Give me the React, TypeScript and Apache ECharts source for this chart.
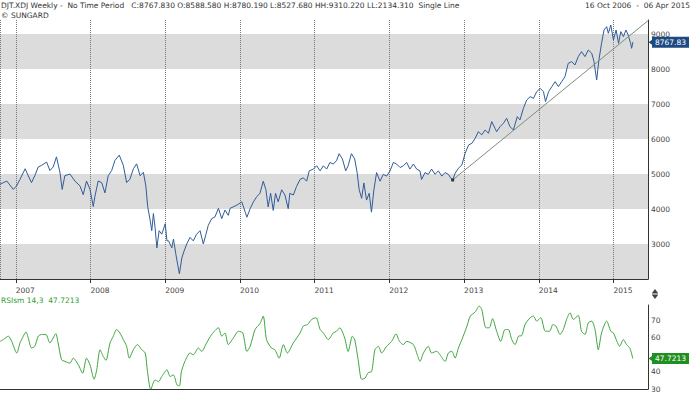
import React, { useEffect, useRef } from "react";
import * as echarts from "echarts";

const priceDates = [
  "2006-10-16","2006-11-18","2006-12-20","2007-01-05","2007-01-22","2007-02-16","2007-03-03","2007-03-19","2007-04-04","2007-04-21",
  "2007-05-07","2007-06-01","2007-06-17","2007-07-03","2007-07-19","2007-08-05","2007-08-16","2007-08-29","2007-09-23","2007-10-17",
  "2007-11-11","2007-11-27","2007-12-13","2007-12-30","2008-01-15","2008-01-23","2008-02-08","2008-02-25","2008-03-12","2008-03-28",
  "2008-04-14","2008-04-30","2008-05-21","2008-06-10","2008-06-26","2008-07-12","2008-07-29","2008-08-14","2008-08-31","2008-09-16",
  "2008-09-28","2008-10-07","2008-10-19","2008-10-27","2008-11-04","2008-11-12","2008-11-21","2008-12-02","2008-12-15","2009-01-01",
  "2009-01-09","2009-01-17","2009-02-02","2009-02-10","2009-02-22","2009-03-03","2009-03-11","2009-03-23","2009-04-03","2009-04-16",
  "2009-05-02","2009-05-18","2009-06-03","2009-06-20","2009-07-06","2009-07-19","2009-07-30","2009-08-16","2009-09-01","2009-09-18",
  "2009-10-04","2009-10-20","2009-11-05","2009-11-14","2009-12-17","2010-01-10","2010-01-27","2010-02-04","2010-02-20","2010-03-08",
  "2010-03-24","2010-04-09","2010-04-25","2010-05-08","2010-05-19","2010-05-31","2010-06-13","2010-06-24","2010-07-07","2010-07-24",
  "2010-08-09","2010-08-25","2010-09-02","2010-09-19","2010-10-05","2010-10-22","2010-11-07","2010-11-23","2010-12-06","2010-12-26",
  "2011-01-11","2011-01-28","2011-02-13","2011-03-01","2011-03-17","2011-04-02","2011-04-18","2011-05-01","2011-05-17","2011-06-02",
  "2011-06-14","2011-06-30","2011-07-16","2011-07-28","2011-08-07","2011-08-19","2011-08-30","2011-09-12","2011-09-25","2011-10-06",
  "2011-10-18","2011-10-31","2011-11-17","2011-12-03","2011-12-19","2012-01-05","2012-01-21","2012-02-06","2012-02-23","2012-03-10",
  "2012-03-26","2012-04-11","2012-04-28","2012-05-14","2012-05-30","2012-06-07","2012-06-24","2012-07-10","2012-07-26","2012-08-12",
  "2012-08-28","2012-09-14","2012-09-30","2012-10-16","2012-10-27","2012-11-06","2012-11-18","2012-12-04","2012-12-21","2013-01-06",
  "2013-01-23","2013-02-08","2013-02-24","2013-03-12","2013-03-28","2013-04-14","2013-04-30","2013-05-16","2013-06-01","2013-06-09",
  "2013-06-26","2013-07-12","2013-07-28","2013-08-13","2013-08-30","2013-09-18","2013-10-01","2013-10-18","2013-11-03","2013-11-20",
  "2013-12-06","2013-12-22","2014-01-08","2014-01-24","2014-02-03","2014-02-18","2014-03-06","2014-03-22","2014-04-07","2014-04-23",
  "2014-05-09","2014-05-25","2014-06-11","2014-06-27","2014-07-13","2014-07-29","2014-08-15","2014-08-31","2014-09-17","2014-09-28",
  "2014-10-11","2014-10-22","2014-11-04","2014-11-16","2014-11-29","2014-12-07","2014-12-19","2015-01-01","2015-01-14","2015-01-26",
  "2015-02-06","2015-02-19","2015-03-03","2015-03-14","2015-03-26","2015-03-31","2015-04-06"
];
const priceValues = [
  4706,4800,4560,4660,4850,5150,4950,4755,4950,5200,
  5245,5340,5100,5200,5490,5050,4560,4950,5000,4800,
  4660,4410,4800,4560,4070,4360,4800,4755,4460,4950,
  5100,5390,5540,5245,4755,4850,5150,5290,4950,5050,
  4660,4070,3680,3380,3870,3480,2890,3380,3280,3580,
  3090,3090,2890,3140,2700,2400,2150,2600,2800,3000,
  3190,3090,3280,3380,3000,3280,3530,3725,3775,4020,
  3725,3970,3820,4020,4110,4205,3910,3765,4010,4205,
  4350,4450,4795,4550,4060,4450,3960,4450,4205,4550,
  4400,4010,4450,4400,4645,4845,4890,4795,5090,5140,
  5235,5090,5235,5140,5330,5285,5380,5580,5430,5090,
  5235,5580,5430,5040,4550,4305,4745,4255,4450,3910,
  4550,5040,4795,4990,4940,5090,5330,5285,5185,5235,
  5330,5140,5285,5140,5090,4845,5040,4990,5140,4990,
  5090,4940,5040,4990,4890,4830,5020,5163,5259,5592,
  5830,5878,6020,6210,6116,6258,6163,6496,6306,6210,
  6354,6449,6592,6354,6258,6639,6544,6877,7115,7210,
  7163,7353,7448,7353,7068,7353,7496,7639,7496,7639,
  7782,8162,8210,8115,8353,8496,8353,8543,8448,8210,
  7686,8258,8734,9114,9210,9019,9257,8829,9114,8734,
  9067,8924,9114,8972,8734,8591,8767.83
];

const rsiDates = [
  "2006-10-16","2006-11-01","2006-11-26","2006-12-12","2007-01-06","2007-01-22","2007-02-07","2007-02-20","2007-03-03","2007-03-19",
  "2007-04-04","2007-04-21","2007-05-07","2007-05-28","2007-06-17","2007-07-03","2007-07-16","2007-07-27","2007-08-13","2007-08-29",
  "2007-09-23","2007-10-09","2007-11-03","2007-11-24","2007-12-13","2007-12-30","2008-01-19","2008-02-01","2008-02-17","2008-03-04",
  "2008-03-17","2008-04-06","2008-04-22","2008-05-08","2008-05-24","2008-06-10","2008-06-26","2008-07-09","2008-07-29","2008-08-18",
  "2008-09-08","2008-09-25","2008-10-06","2008-10-22","2008-11-12","2008-11-29","2008-12-15","2009-01-09","2009-01-25","2009-02-10",
  "2009-02-27","2009-03-11","2009-03-21","2009-04-07","2009-05-02","2009-05-18","2009-06-12","2009-06-28","2009-07-22","2009-08-16",
  "2009-09-18","2009-10-04","2009-10-20","2009-11-05","2009-11-30","2009-12-25","2010-01-15","2010-02-04","2010-02-20","2010-03-16",
  "2010-04-09","2010-04-25","2010-05-11","2010-06-04","2010-06-21","2010-07-12","2010-08-01","2010-08-21","2010-09-19","2010-10-22",
  "2010-11-07","2010-11-27","2010-12-18","2011-01-08","2011-01-28","2011-02-13","2011-03-09","2011-04-02","2011-04-18","2011-05-04",
  "2011-05-28","2011-06-14","2011-07-05","2011-07-16","2011-08-02","2011-08-19","2011-09-04","2011-09-21","2011-10-07","2011-10-23",
  "2011-11-09","2011-11-25","2011-12-19","2012-01-13","2012-02-03","2012-02-20","2012-03-10","2012-03-26","2012-04-28","2012-05-17",
  "2012-05-30","2012-06-16","2012-07-10","2012-07-26","2012-08-20","2012-09-05","2012-09-30","2012-10-16","2012-11-02","2012-11-18",
  "2012-12-04","2012-12-21","2013-01-15","2013-01-31","2013-02-24","2013-03-16","2013-03-28","2013-04-18","2013-05-04","2013-05-20",
  "2013-06-09","2013-06-29","2013-07-20","2013-08-05","2013-08-22","2013-09-07","2013-09-24","2013-10-10","2013-10-26","2013-11-20",
  "2013-12-06","2013-12-22","2014-01-11","2014-02-02","2014-02-23","2014-03-11","2014-03-26","2014-04-15","2014-05-01","2014-05-17",
  "2014-06-03","2014-06-19","2014-07-13","2014-07-29","2014-08-15","2014-08-31","2014-09-17","2014-10-03","2014-10-19","2014-11-04",
  "2014-11-29","2014-12-19","2015-01-01","2015-01-18","2015-01-31","2015-02-19","2015-03-06","2015-03-22","2015-04-06"
];
const rsiValues = [
  57.8,58.8,60.8,57.8,51.0,56.9,60.8,63.3,59.8,53.9,
  54.9,60.8,61.8,61.8,56.9,59.8,62.3,56.9,47.1,46.1,
  45.1,48.0,44.1,39.2,48.0,44.1,35.7,41.2,52.9,49.0,
  46.7,56.9,60.8,64.7,62.7,58.8,54.9,48.0,52.9,55.9,
  52.9,51.0,40.2,29.8,35.3,34.3,37.3,41.2,37.3,38.2,
  32.4,31.8,40.2,46.1,51.0,50.0,53.9,51.9,56.9,61.8,
  65.7,60.8,62.7,55.9,59.8,63.7,62.7,51.9,54.9,64.7,
  68.2,72.5,58.8,53.9,52.9,48.0,55.9,51.0,56.9,62.7,
  66.7,67.6,70.6,71.6,64.7,62.7,58.8,62.7,63.7,65.7,
  59.8,51.9,60.8,58.8,47.1,35.7,36.3,39.6,40.2,52.9,
  54.9,51.0,54.9,57.8,62.2,57.8,55.9,57.8,55.9,50.0,
  46.1,51.0,54.9,51.0,52.0,50.0,46.1,51.0,52.0,48.0,
  53.9,58.8,66.7,72.5,74.9,78.4,76.5,65.7,65.7,71.0,
  63.7,57.8,64.7,64.7,58.8,55.9,60.8,61.2,67.6,71.6,
  72.5,69.6,71.6,63.7,63.7,67.6,66.7,61.8,64.7,70.6,
  74.5,70.6,72.9,63.7,61.8,68.6,69.6,64.7,52.9,62.7,
  69.6,63.7,62.7,57.8,54.9,58.8,55.9,53.9,47.7213
];

const trendDates = ["2012-11-06", "2015-06-19"];
const trendValues = [4830, 9380];

const xMin = "2006-10-16";
const xMax = "2015-06-19";
const lastPrice = 8767.83;
const lastRsi = 47.7213;

const headerText =
  "DJT.XDJ Weekly -  No Time Period   C:8767.830 O:8588.580 H:8780.190 L:8527.680 HH:9310.220 LL:2134.310  Single Line";
const rangeText = "16 Oct 2006  -  06 Apr 2015";
const sourceText = "\u00a9 SUNGARD";
const rsiText = "RSIsm 14,3  47.7213";

export default function App() {
  const ref = useRef<HTMLDivElement>(null);
  useEffect(() => {
    const chart = echarts.init(ref.current!, null, { renderer: "svg" });
    const FONT = "DejaVu Sans";
    const YEAR = 365 * 864e5;
    const priceData = priceDates.map((d, i) => [d, priceValues[i]]);
    const rsiData = rsiDates.map((d, i) => [d, rsiValues[i]]);
    const trendData = trendDates.map((d, i) =>
      i === 0
        ? { value: [d, trendValues[i]], symbol: "rect", symbolSize: 3 }
        : { value: [d, trendValues[i]], symbol: "none" }
    );
    const navy = "#1d4a82";
    const green = "#1f8f1f";
    const tagLabel = (text: string, bg: string) => ({
      show: true,
      position: "end",
      distance: 4,
      formatter: text,
      backgroundColor: bg,
      color: "#ffffff",
      fontSize: 7.5,
      fontFamily: FONT,
      padding: [2, 3, 1, 3],
    });
    chart.setOption({
      animation: false,
      backgroundColor: "#ffffff",
      textStyle: { fontFamily: FONT },
      grid: [
        { left: 0, top: 20, width: 648, height: 259 },
        { left: 0, top: 305, width: 648, height: 84 },
      ],
      xAxis: [
        {
          type: "time",
          gridIndex: 0,
          min: xMin,
          max: xMax,
          minInterval: YEAR,
          maxInterval: YEAR,
          axisLine: { lineStyle: { color: "#333", width: 1 } },
          axisTick: { show: true, length: 4, lineStyle: { color: "#333" } },
          axisLabel: {
            formatter: "{yyyy}",
            align: "left",
            color: "#4a4545",
            fontSize: 7.5,
            fontFamily: FONT,
            margin: 7,
            showMinLabel: false,
            showMaxLabel: false,
          },
          splitLine: { show: true, lineStyle: { type: "dotted", color: "#777", width: 1 } },
        },
        {
          type: "time",
          gridIndex: 1,
          min: xMin,
          max: xMax,
          minInterval: YEAR,
          maxInterval: YEAR,
          axisLine: { lineStyle: { color: "#333", width: 1 } },
          axisTick: { show: false },
          axisLabel: { show: false },
          splitLine: { show: false },
        },
      ],
      yAxis: [
        {
          type: "value",
          gridIndex: 0,
          position: "right",
          min: 2000,
          max: 9400,
          interval: 1000,
          axisLine: { show: true, lineStyle: { color: "#333" } },
          axisTick: { show: false },
          axisLabel: {
            color: "#4a4545",
            fontSize: 7.5,
            fontFamily: FONT,
            margin: 3,
            showMinLabel: false,
            showMaxLabel: false,
            formatter: (v: number) => String(v),
          },
          splitLine: { show: false },
          splitArea: { show: true, areaStyle: { color: ["#dcdcdc", "#ffffff"] } },
        },
        {
          type: "value",
          gridIndex: 1,
          position: "right",
          min: 30,
          max: 79,
          interval: 10,
          axisLine: { show: true, lineStyle: { color: "#333" } },
          axisTick: { show: false },
          axisLabel: {
            color: "#4a4545",
            fontSize: 7.5,
            fontFamily: FONT,
            margin: 3,
            showMaxLabel: false,
            formatter: (v: number) => (v === 50 ? "" : String(v)),
          },
          splitLine: { show: false },
        },
      ],
      series: [
        {
          type: "line",
          name: "DJT",
          xAxisIndex: 0,
          yAxisIndex: 0,
          data: priceData,
          symbol: "none",
          lineStyle: { color: "#2f5c98", width: 1 },
          z: 3,
          markLine: {
            silent: true,
            symbol: "none",
            lineStyle: { color: "rgba(0,0,0,0)", width: 0 },
            label: tagLabel("8767.83", navy),
            data: [{ yAxis: lastPrice }],
          },
          markPoint: {
            silent: true,
            symbol: "triangle",
            symbolSize: [7, 5],
            symbolRotate: 90,
            symbolOffset: [3, 0],
            itemStyle: { color: navy },
            label: { show: false },
            data: [{ coord: [xMax, lastPrice] }],
          },
        },
        {
          type: "line",
          name: "trend",
          xAxisIndex: 0,
          yAxisIndex: 0,
          data: trendData,
          symbol: "rect",
          symbolSize: 3,
          showAllSymbol: true,
          itemStyle: { color: "#333" },
          lineStyle: { color: "#7f8c80", width: 1 },
          z: 4,
        },
        {
          type: "line",
          name: "RSI",
          xAxisIndex: 1,
          yAxisIndex: 1,
          data: rsiData,
          symbol: "none",
          smooth: 0.25,
          lineStyle: { color: "#3fa63f", width: 1 },
          markLine: {
            silent: true,
            symbol: "none",
            lineStyle: { color: "rgba(0,0,0,0)", width: 0 },
            label: tagLabel("47.7213", green),
            data: [{ yAxis: lastRsi }],
          },
          markPoint: {
            silent: true,
            symbol: "triangle",
            symbolSize: [7, 5],
            symbolRotate: 90,
            symbolOffset: [3, 0],
            itemStyle: { color: green },
            label: { show: false },
            data: [{ coord: [xMax, lastRsi] }],
          },
        },
      ],
      graphic: [
        {
          type: "text",
          left: 1,
          top: 1,
          style: { text: headerText, fill: "#333", font: `7.5px "${FONT}"` },
        },
        {
          type: "text",
          right: 1,
          top: 1,
          style: { text: rangeText, fill: "#333", font: `7.5px "${FONT}"` },
        },
        {
          type: "text",
          left: 1,
          top: 11,
          style: { text: sourceText, fill: "#333", font: `7.5px "${FONT}"` },
        },
        {
          type: "text",
          left: 1,
          top: 296,
          style: { text: rsiText, fill: "#2ea02e", font: `7.5px "${FONT}"` },
        },
        {
          type: "group",
          left: 652,
          top: 289,
          children: [
            { type: "polygon", shape: { points: [[0, 4], [3, 0], [6, 4]] }, style: { fill: "#444" } },
            { type: "rect", shape: { x: 0, y: 4.5, width: 6, height: 1 }, style: { fill: "#444" } },
            { type: "polygon", shape: { points: [[0, 6], [6, 6], [3, 10]] }, style: { fill: "#444" } },
          ],
        },
      ],
    });
    return () => chart.dispose();
  }, []);
  return (
    <div
      ref={ref}
      style={{ position: "absolute", left: 0, top: 0, width: 691, height: 393, background: "#fff" }}
    />
  );
}
